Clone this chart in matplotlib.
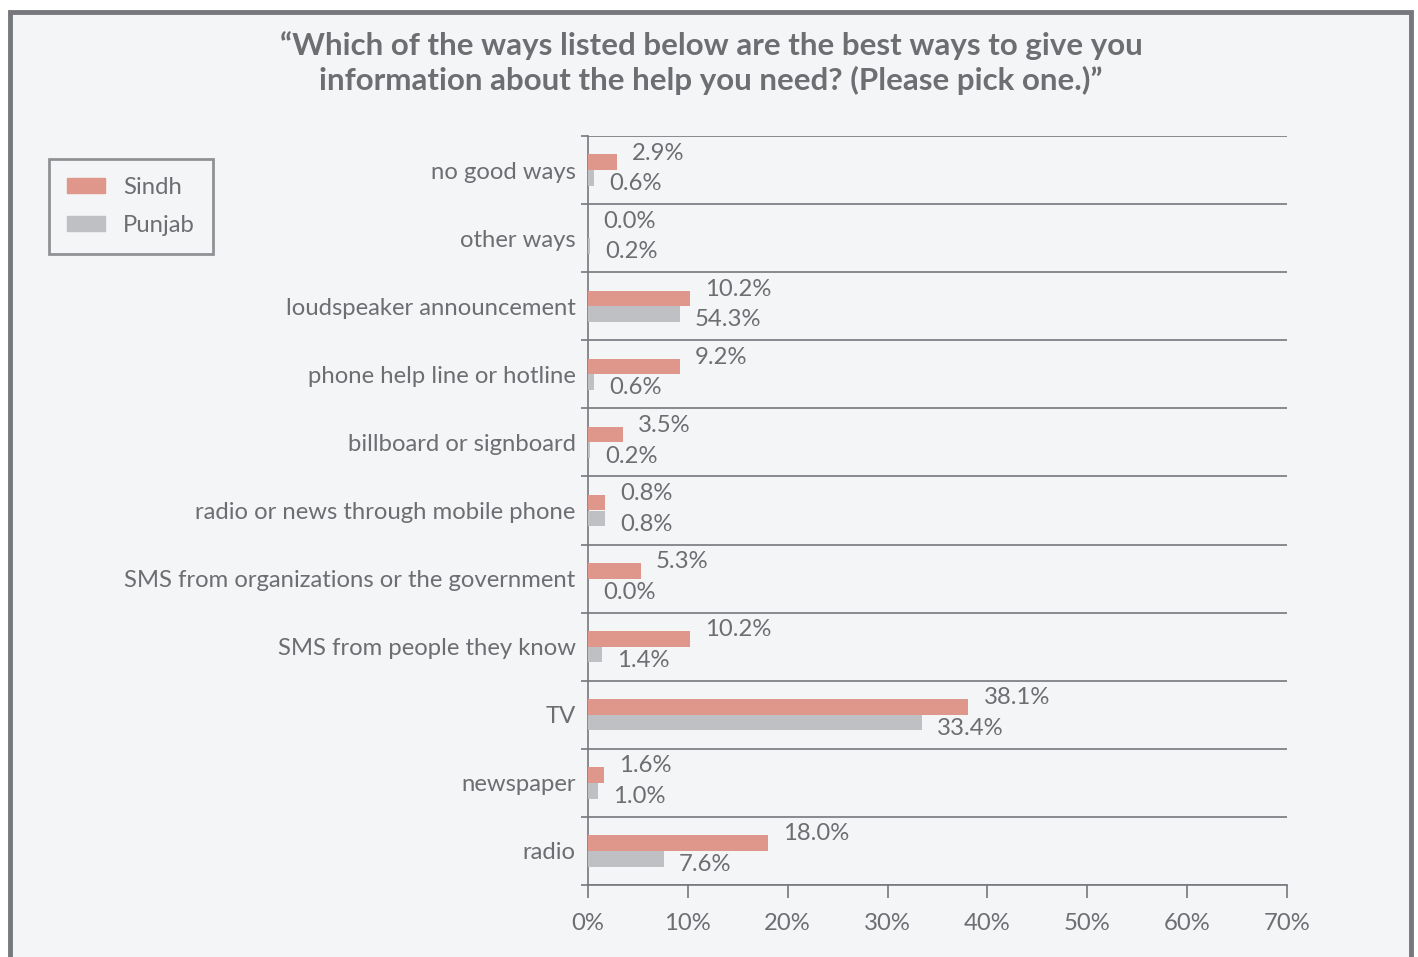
import matplotlib
matplotlib.use("Agg")
import matplotlib.pyplot as plt
from matplotlib.patches import Rectangle, Patch

categories = ["no good ways", "other ways", "loudspeaker announcement",
              "phone help line or hotline", "billboard or signboard",
              "radio or news through mobile phone",
              "SMS from organizations or the government",
              "SMS from people they know", "TV", "newspaper", "radio"]
# bar lengths as drawn in the reference
sindh = [2.9, 0.0, 10.2, 9.2, 3.5, 1.7, 5.3, 10.2, 38.1, 1.6, 18.0]
punjab = [0.6, 0.2, 9.2, 0.6, 0.2, 1.7, 0.0, 1.4, 33.4, 1.0, 7.6]
# value labels as printed in the reference
sindh_labels = ["2.9%", "0.0%", "10.2%", "9.2%", "3.5%", "0.8%", "5.3%",
                "10.2%", "38.1%", "1.6%", "18.0%"]
punjab_labels = ["0.6%", "0.2%", "54.3%", "0.6%", "0.2%", "0.8%", "0.0%",
                 "1.4%", "33.4%", "1.0%", "7.6%"]
xticks = [0, 10, 20, 30, 40, 50, 60, 70]
xtick_labels = ["0%", "10%", "20%", "30%", "40%", "50%", "60%", "70%"]
title = ("\u201cWhich of the ways listed below are the best ways to give you\n"
         "information about the help you need? (Please pick one.)\u201d")

BG = "#f4f5f7"
TXT = "#6d6e71"
LINE = "#77787d"
C_S = "#e0978b"
C_P = "#bfc0c3"
FONT = "Lato"
FS = 17.2

fig = plt.figure(figsize=(14.18, 9.57), dpi=100)
fig.patch.set_facecolor("white")
frame = Rectangle((10 / 1418, -0.05), 1401 / 1418, 1 - 12 / 957 + 0.05,
                  transform=fig.transFigure, facecolor=BG,
                  edgecolor=LINE, linewidth=3.5, zorder=-10)
fig.add_artist(frame)

ax = fig.add_axes([588 / 1418, 1 - 885 / 957, (1287 - 588) / 1418, (885 - 136) / 957])
ax.set_zorder(5)
ax.patch.set_alpha(0)

n = len(categories)
ys = list(range(n))
h = 0.23
ax.barh([y - 0.115 for y in ys], sindh, height=h, color=C_S, zorder=3)
ax.barh([y + 0.115 for y in ys], punjab, height=h, color=C_P, zorder=3)

for y, v, lab in zip(ys, sindh, sindh_labels):
    ax.text(v + 1.5, y - 0.25, lab, va="center", ha="left", fontsize=FS,
            color=TXT, family=FONT)
for y, v, lab in zip(ys, punjab, punjab_labels):
    ax.text(v + 1.5, y + 0.2, lab, va="center", ha="left", fontsize=FS,
            color=TXT, family=FONT)

ax.set_xlim(0, 70)
ax.set_ylim(n - 0.5, -0.5)
ax.set_xticks(xticks)
ax.set_xticklabels(xtick_labels, fontsize=FS, color=TXT, family=FONT)
ax.set_yticks(ys)
ax.set_yticklabels(categories, fontsize=FS, color=TXT, family=FONT)
ax.set_yticks([y - 0.5 for y in range(n + 1)], minor=True)
ax.tick_params(axis="y", which="major", length=0, pad=9)
ax.tick_params(axis="y", which="minor", length=5, width=1.2, color=LINE)
ax.tick_params(axis="x", which="major", length=9, width=1.2, color=LINE, pad=11)
ax.grid(True, axis="y", which="minor", color=LINE, linewidth=1.2, zorder=1)
for s in ["top", "right"]:
    ax.spines[s].set_visible(False)
for s in ["left", "bottom"]:
    ax.spines[s].set_color(LINE)
    ax.spines[s].set_linewidth(1.2)

fig.text(711 / 1418, 1 - 63 / 957, title, ha="center", va="center",
         fontsize=22.5, fontweight="bold", color=TXT, family=FONT, linespacing=1.25)

leg = fig.legend(handles=[Patch(color=C_S, label="Sindh"), Patch(color=C_P, label="Punjab")],
                 loc="upper left", bbox_to_anchor=(49 / 1418, 1 - 159 / 957),
                 bbox_transform=fig.transFigure, frameon=True, fancybox=False,
                 prop={"family": FONT, "size": 17.2}, handlelength=1.6, handleheight=0.6,
                 handletextpad=0.75, borderpad=0.75, labelspacing=0.7, borderaxespad=0)
leg.get_frame().set_edgecolor(LINE)
leg.get_frame().set_linewidth(2)
leg.get_frame().set_facecolor(BG)
for t in leg.get_texts():
    t.set_color(TXT)

fig.savefig("out.png", dpi=100, facecolor=fig.get_facecolor())
